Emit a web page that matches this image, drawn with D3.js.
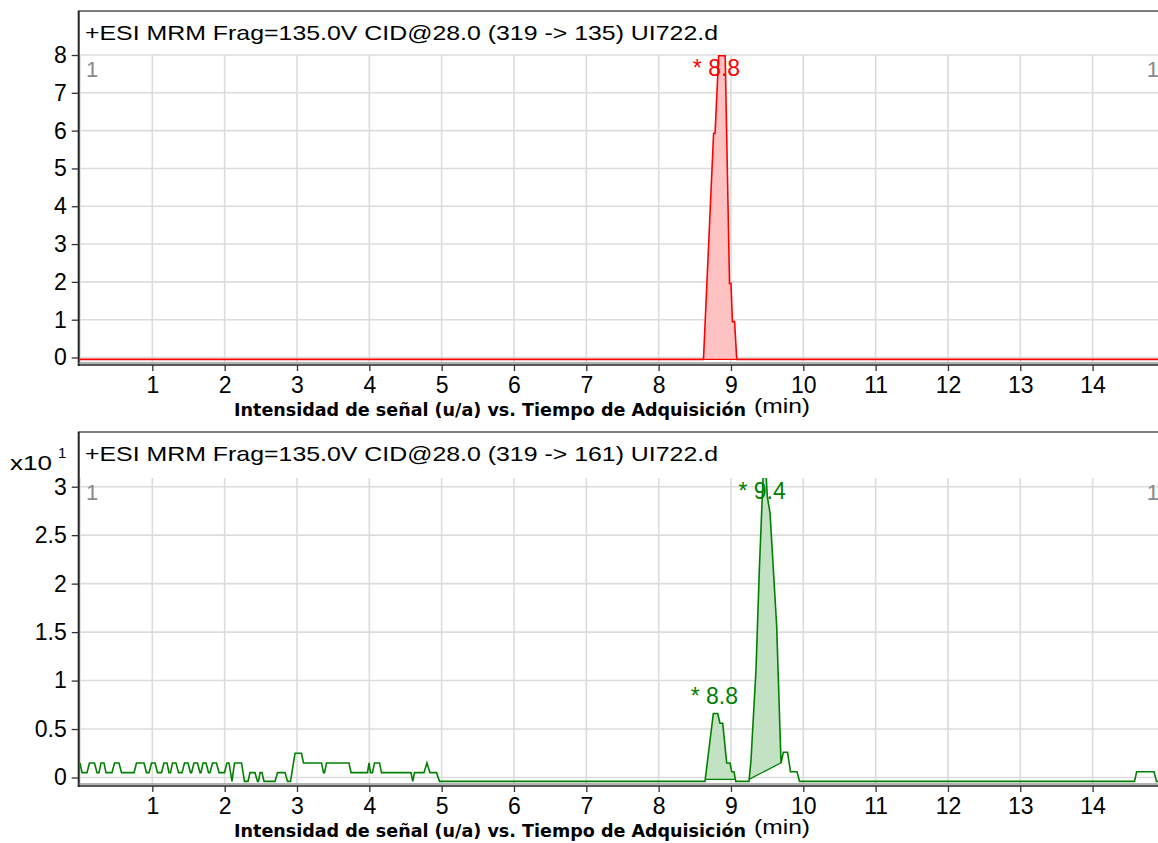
<!DOCTYPE html>
<html><head><meta charset="utf-8">
<script src="https://cdn.jsdelivr.net/npm/d3@7"></script>
<style>body{margin:0;background:#fff}svg{display:block}</style>
</head><body>
<svg id="c" width="1158" height="843"></svg>
<script>
// ---------- data ----------
const xTickValues = [1,2,3,4,5,6,7,8,9,10,11,12,13,14];
const topYTickValues = [0,1,2,3,4,5,6,7,8];
const bottomYTickValues = [0,0.5,1,1.5,2,2.5,3];
const topTitle = "+ESI MRM Frag=135.0V CID@28.0 (319 -> 135) UI722.d";
const bottomTitle = "+ESI MRM Frag=135.0V CID@28.0 (319 -> 161) UI722.d";
const xAxisTitle = "Intensidad de señal (u/a) vs. Tiempo de Adquisición";
const xAxisUnit = "(min)";
const bottomMultiplier = "x10";
const bottomExponent = "1";

const topTimes  = [0, 8.62, 8.76, 8.78, 8.83, 8.92, 8.98, 9.00, 9.02, 9.05, 9.08, 14.91];
const topValues = [-0.05, -0.05, 5.93, 5.93, 7.98, 7.98, 1.96, 1.96, 0.95, 0.95, -0.05, -0.05];

const bottomTimes = [
  0, 0.028, 0.097, 0.131, 0.200, 0.235, 0.263, 0.290, 0.332, 0.359,
  0.442, 0.477, 0.539, 0.574, 0.747, 0.781, 0.885, 0.919, 0.954, 0.989,
  1.037, 1.071, 1.127, 1.161, 1.203, 1.230, 1.251, 1.279, 1.327, 1.362,
  1.410, 1.445, 1.493, 1.528, 1.542, 1.576, 1.624, 1.659, 1.673, 1.701,
  1.742, 1.777, 1.797, 1.832, 1.887, 1.922, 1.998, 2.032, 2.060, 2.101,
  2.136, 2.233, 2.274, 2.323, 2.350, 2.419, 2.454, 2.468, 2.489, 2.516,
  2.544, 2.696, 2.731, 2.835, 2.869, 2.910, 2.973, 3.062, 3.090, 3.339,
  3.367, 3.380, 3.408, 3.719, 3.747, 3.975, 3.996, 4.016, 4.044, 4.072,
  4.141, 4.168, 4.576, 4.600, 4.625, 4.756, 4.797, 4.839, 4.929, 4.970,
  8.641, 8.756, 8.817, 8.848, 8.886, 8.941, 8.987, 9.010, 9.042, 9.066,
  9.249, 9.277, 9.346, 9.392, 9.429, 9.447, 9.484, 9.502, 9.540, 9.632,
  9.692, 9.724, 9.782, 9.823, 9.913, 9.948,
  14.579, 14.609, 14.849, 14.883, 14.904
];
const bottomValues = [
  0.15, 0.05, 0.05, 0.15, 0.15, 0.05, 0.05, 0.15, 0.15, 0.05,
  0.05, 0.15, 0.15, 0.05, 0.05, 0.15, 0.15, 0.05, 0.05, 0.15,
  0.15, 0.05, 0.05, 0.15, 0.15, 0.05, 0.05, 0.15, 0.15, 0.05,
  0.05, 0.15, 0.15, 0.05, 0.05, 0.15, 0.15, 0.05, 0.05, 0.15,
  0.15, 0.05, 0.05, 0.15, 0.15, 0.05, 0.05, 0.15, 0.15, -0.04,
  0.15, 0.15, -0.04, -0.04, 0.05, 0.05, -0.04, -0.04, 0.05, 0.05,
  -0.04, -0.04, 0.05, 0.05, -0.04, -0.04, 0.25, 0.25, 0.15, 0.15,
  0.05, 0.05, 0.15, 0.15, 0.05, 0.05, 0.15, 0.05, 0.05, 0.15,
  0.15, 0.05, 0.05, -0.04, 0.05, 0.05, 0.15, 0.05, 0.05, -0.04,
  -0.04, 0.66, 0.66, 0.56, 0.56, 0.15, 0.15, 0.06, 0.06, -0.04,
  -0.04, 0.18, 1.11, 2.14, 2.83, 3.15, 3.15, 2.90, 2.73, 1.56,
  0.15, 0.26, 0.26, 0.06, 0.06, -0.04,
  -0.04, 0.06, 0.06, -0.04, -0.04
];

const topPeakRT = [8.80];
const topPeakStart = [8.62];
const topPeakEnd = [9.08];
const topPeakBaseStart = [-0.05];
const topPeakBaseEnd = [-0.05];

const bottomPeakRT = [8.77, 9.43];
const bottomPeakStart = [8.641, 9.249];
const bottomPeakEnd = [9.066, 9.70];
const bottomPeakBaseStart = [-0.02, -0.02];
const bottomPeakBaseEnd = [-0.02, 0.155];

// ---------- drawing ----------
const W = 1158;
const svg = d3.select("#c");
const FONT = "'Liberation Sans', Arial, Helvetica, sans-serif";
const x = d3.scaleLinear().domain([0, 14.904]).range([80, W]);

function interp(times, values, t) {
  for (let k = 0; k < times.length - 1; k++) {
    if (t >= times[k] && t <= times[k + 1]) {
      const f = (t - times[k]) / (times[k + 1] - times[k] || 1);
      return values[k] + f * (values[k + 1] - values[k]);
    }
  }
  return values[values.length - 1];
}

function drawPanel(p) {
  const g = svg.append("g");
  const clipId = "clip" + p.id;
  svg.append("clipPath").attr("id", clipId).append("rect")
    .attr("x", 80).attr("y", p.plotTop).attr("width", W - 80).attr("height", p.plotBottom - p.plotTop);

  // grid
  g.append("g").selectAll("line").data([0].concat(xTickValues)).join("line")
    .attr("x1", d => x(d)).attr("x2", d => x(d))
    .attr("y1", p.plotTop).attr("y2", p.plotBottom)
    .attr("stroke", "#dcdcdc").attr("stroke-width", 1.6);
  g.append("g").selectAll("line").data(p.yTicks).join("line")
    .attr("x1", 80).attr("x2", W)
    .attr("y1", d => p.y(d)).attr("y2", d => p.y(d))
    .attr("stroke", "#dcdcdc").attr("stroke-width", 1.6);

  const plot = g.append("g").attr("clip-path", `url(#${clipId})`);
  const line = d3.line().x(d => x(d[0])).y(d => p.y(d[1]));

  // peak fills
  p.peakStart.forEach((s, i) => {
    const e = p.peakEnd[i];
    const pts = [[s, interp(p.times, p.values, s)]];
    p.times.forEach((t, k) => { if (t > s && t < e) pts.push([t, p.values[k]]); });
    pts.push([e, interp(p.times, p.values, e)]);
    pts.push([e, p.peakBaseEnd[i]]);
    pts.push([s, p.peakBaseStart[i]]);
    plot.append("path").attr("d", line(pts) + "Z").attr("fill", p.fill).attr("stroke", "none");
    plot.append("path").attr("d", line([[s, p.peakBaseStart[i]], [e, p.peakBaseEnd[i]]]))
      .attr("fill", "none").attr("stroke", p.color).attr("stroke-width", 1.3);
  });

  // trace
  plot.append("path").attr("d", line(p.times.map((t, k) => [t, p.values[k]])))
    .attr("fill", "none").attr("stroke", p.color).attr("stroke-width", 1.6)
    .attr("stroke-linejoin", "miter");

  // peak labels
  p.peakRT.forEach((rt, i) => {
    let apex = -Infinity;
    p.times.forEach((t, k) => { if (t >= p.peakStart[i] && t <= p.peakEnd[i]) apex = Math.max(apex, p.values[k]); });
    const yb = Math.max(p.y(apex) - 10, p.plotTop + 21);
    g.append("text").attr("x", x(rt)).attr("y", yb).attr("text-anchor", "middle")
      .attr("font-family", FONT).attr("font-size", 23).attr("fill", p.color)
      .text("* " + rt.toFixed(1));
  });

  // gray "1" markers
  g.append("text").attr("x", 86).attr("y", p.plotTop + 22).attr("font-family", FONT)
    .attr("font-size", 22).attr("fill", "#8a8a8a").text("1");
  g.append("text").attr("x", W + 1).attr("y", p.plotTop + 22).attr("text-anchor", "end").attr("font-family", FONT)
    .attr("font-size", 22).attr("fill", "#8a8a8a").text("1");

  // frame
  g.append("line").attr("x1", 78).attr("x2", W).attr("y1", p.frameTop).attr("y2", p.frameTop)
    .attr("stroke", "#555").attr("stroke-width", 1.5);
  g.append("line").attr("x1", 78.7).attr("x2", 78.7).attr("y1", p.frameTop).attr("y2", p.axisY + 1)
    .attr("stroke", "#222").attr("stroke-width", 2);
  g.append("line").attr("x1", 78).attr("x2", W).attr("y1", p.plotBottom + 0.5).attr("y2", p.plotBottom + 0.5)
    .attr("stroke", "#666").attr("stroke-width", 1);
  g.append("line").attr("x1", 78).attr("x2", W).attr("y1", p.axisY).attr("y2", p.axisY)
    .attr("stroke", "#222").attr("stroke-width", 1.6);

  // header title
  g.append("text").attr("x", 85).attr("y", p.frameTop + 29)
    .attr("font-family", FONT).attr("font-size", 21).attr("fill", "#000")
    .attr("textLength", 633).attr("lengthAdjust", "spacingAndGlyphs").text(p.title);

  // axes
  const ya = g.append("g").attr("transform", "translate(78.7,0)")
    .call(d3.axisLeft(p.y).tickValues(p.yTicks).tickSize(7).tickPadding(5).tickFormat(d => String(d)));
  ya.select(".domain").remove();
  ya.selectAll("line").attr("stroke", "#333").attr("stroke-width", 1.3);
  ya.selectAll("text").attr("font-family", FONT).attr("font-size", 23).attr("fill", "#000");

  const xa = g.append("g").attr("transform", `translate(0,${p.axisY})`)
    .call(d3.axisBottom(x).tickValues(xTickValues).tickSize(6).tickPadding(6));
  xa.select(".domain").remove();
  xa.selectAll("line").attr("stroke", "#333").attr("stroke-width", 1.3);
  xa.selectAll("text").attr("font-family", FONT).attr("font-size", 23).attr("fill", "#000");

  // x axis title
  g.append("text").attr("x", 234).attr("y", p.axisY + 51)
    .attr("font-family", "'DejaVu Sans Condensed','DejaVu Sans',sans-serif").attr("font-weight", "bold")
    .attr("font-size", 17).attr("fill", "#000")
    .attr("textLength", 512).attr("lengthAdjust", "spacingAndGlyphs").text(xAxisTitle);
  g.append("text").attr("x", 754).attr("y", p.axisY + 48)
    .attr("font-family", FONT).attr("font-size", 21).attr("fill", "#000")
    .attr("textLength", 56).attr("lengthAdjust", "spacingAndGlyphs").text(xAxisUnit);

  if (p.multiplier) {
    g.append("text").attr("x", 10).attr("y", p.frameTop + 38)
      .attr("font-family", FONT).attr("font-size", 21).attr("fill", "#000")
      .attr("textLength", 42).attr("lengthAdjust", "spacingAndGlyphs").text(bottomMultiplier);
    g.append("text").attr("x", 58).attr("y", p.frameTop + 26)
      .attr("font-family", FONT).attr("font-size", 15).attr("fill", "#000").text(bottomExponent);
  }
}

drawPanel({
  id: "top", frameTop: 11, plotTop: 55, plotBottom: 362.5, axisY: 365,
  y: d3.scaleLinear().domain([0, 8]).range([357.5, 55]),
  yTicks: topYTickValues, title: topTitle,
  times: topTimes, values: topValues,
  peakRT: topPeakRT, peakStart: topPeakStart, peakEnd: topPeakEnd,
  peakBaseStart: topPeakBaseStart, peakBaseEnd: topPeakBaseEnd,
  color: "#ff0000", fill: "#ffc2c2", multiplier: false
});

drawPanel({
  id: "bottom", frameTop: 432, plotTop: 478, plotBottom: 783.5, axisY: 786,
  y: d3.scaleLinear().domain([0, 3]).range([777.5, 486.7]),
  yTicks: bottomYTickValues, title: bottomTitle,
  times: bottomTimes, values: bottomValues,
  peakRT: bottomPeakRT, peakStart: bottomPeakStart, peakEnd: bottomPeakEnd,
  peakBaseStart: bottomPeakBaseStart, peakBaseEnd: bottomPeakBaseEnd,
  color: "#008000", fill: "#c3e1c3", multiplier: true
});
</script>
</body></html>
